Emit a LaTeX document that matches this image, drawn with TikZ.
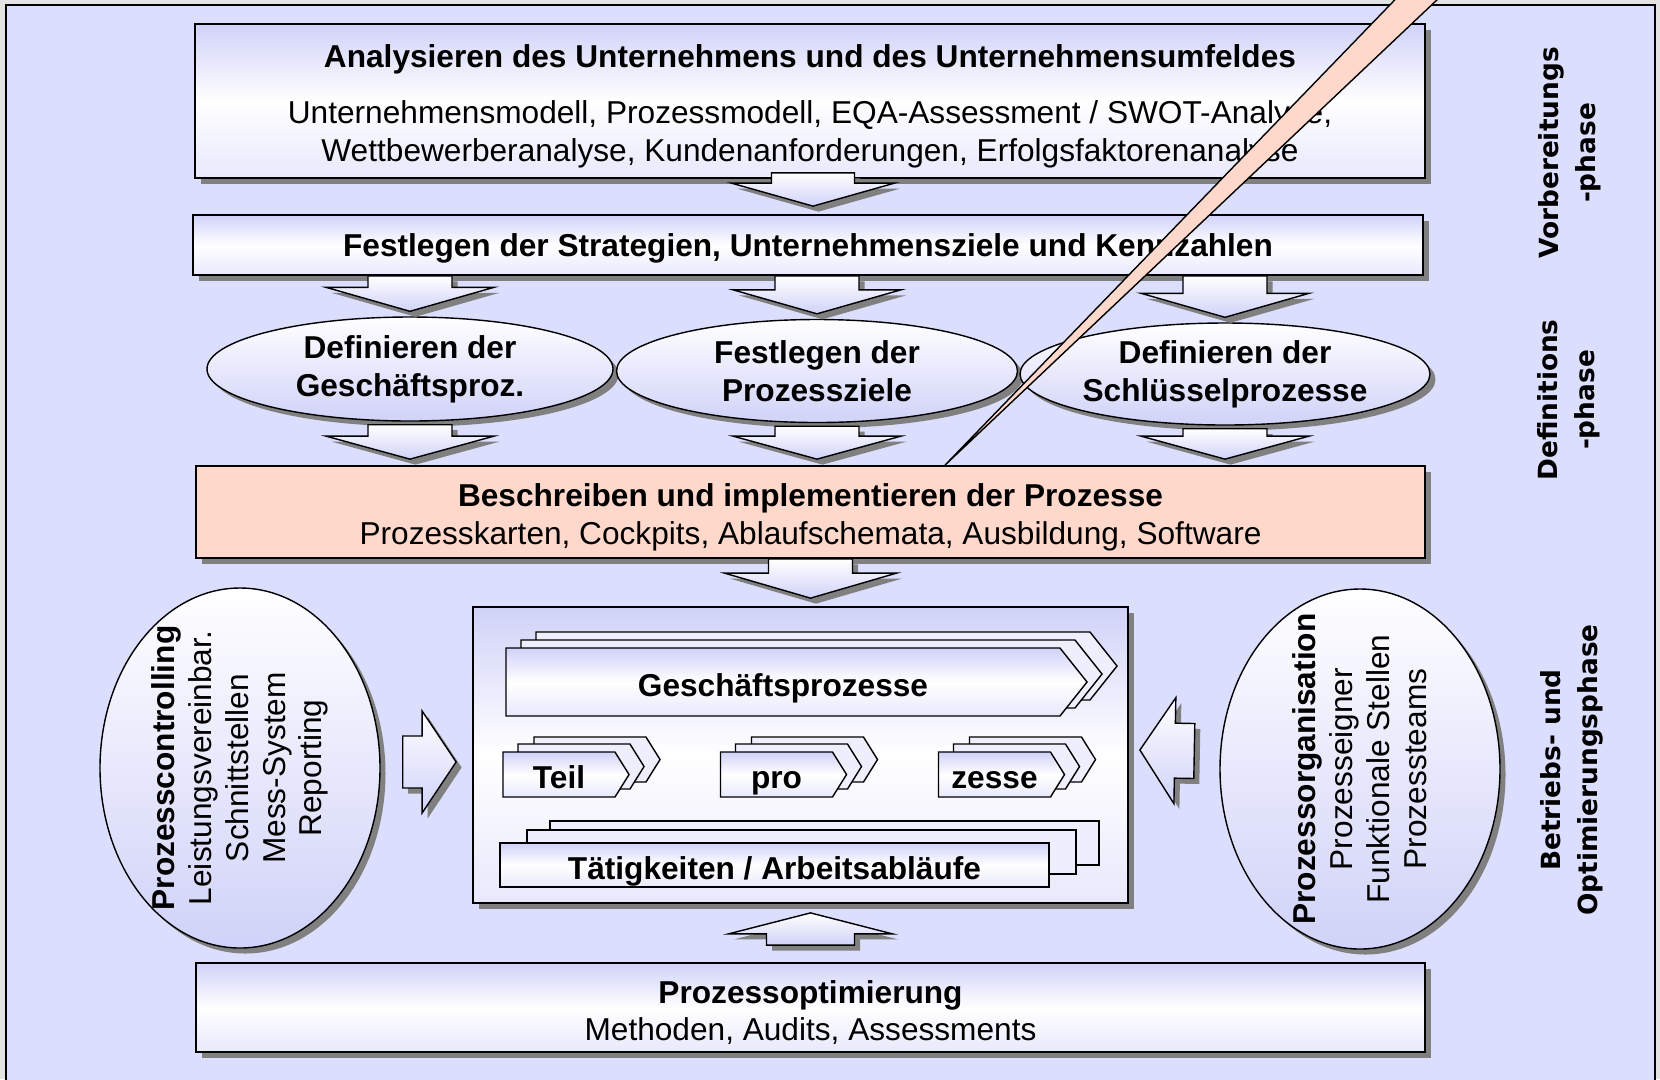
\documentclass[tikz,border=0pt]{standalone}
\usepackage{fontspec}
\setmainfont{Liberation Sans}
\newfontfamily\phasefont{DejaVu Sans}
\usetikzlibrary{calc,shapes.geometric,shapes.symbols,shadows}
\definecolor{pmgray}{RGB}{227,227,227}
\definecolor{pmlav}{RGB}{220,222,254}
\definecolor{pmshade}{RGB}{208,210,248}
\definecolor{pmpink}{RGB}{255,216,204}
\definecolor{pmshadow}{RGB}{128,128,128}
\definecolor{pmlayer}{RGB}{238,238,253}
\newcommand{\pmsize}{\fontsize{18}{21.6}\selectfont}
\newcommand{\pmstrut}[1]{\rule{0pt}{#1}}
\newcommand{\blkarrow}[6][]{%
  \coordinate (bas) at (#2);
  \coordinate (bae) at (#3);
  \coordinate (bah) at ($(bae)!#6!(bas)$);
  \draw[blk,#1] ($(bas)!#4!90:(bae)$) -- ($(bah)!#4!90:(bae)$)
    -- ($(bah)!#5!90:(bae)$) -- (bae) -- ($(bah)!#5!-90:(bae)$)
    -- ($(bah)!#4!-90:(bae)$) -- ($(bas)!#4!-90:(bae)$) -- cycle;
}

\begin{document}
\begin{tikzpicture}[
  font=\pmsize,
  dshadow/.style={drop shadow={shadow xshift=0.11cm, shadow yshift=-0.11cm, fill=pmshadow, opacity=1}},
  plainbox/.style={draw, line width=1pt, rectangle, align=center, inner sep=0pt, dshadow},
  box/.style={plainbox, top color=pmshade, bottom color=pmshade!50, middle color=white},
  oval/.style={ellipse, draw, line width=0.8pt, align=center, inner sep=0pt, font=\pmsize\bfseries,
               top color=white, bottom color=pmshade, dshadow},
  rottext/.style={rotate=90, align=center, font=\fontsize{18}{21}\selectfont},
  phase/.style={rotate=90, align=center, font=\phasefont\bfseries\fontsize{15}{21}\selectfont},
  blk/.style={draw, line width=0.8pt, top color=white, bottom color=pmshade, dshadow},
  chev/.style={signal, signal to=east, draw, line width=0.8pt, inner sep=0pt, font=\pmsize\bfseries,
               text height=0.6cm, text depth=0.04cm,
               top color=pmshade, bottom color=pmshade!50, middle color=white},
  tbox/.style={rectangle, draw, line width=0.8pt, inner sep=0pt, font=\pmsize\bfseries,
               text height=0.6cm, text depth=0.04cm,
               top color=pmshade, bottom color=pmshade!50, middle color=white},
  layer/.style 2 args={general shadow={shadow xshift=#1, shadow yshift=#2, fill=pmlayer, draw=black, line width=0.8pt}},
  bigstack/.style={layer={0.6cm}{0.32cm}, layer={0.3cm}{0.16cm}},
  smallstack/.style={layer={0.62cm}{0.3cm}, layer={0.3cm}{0.16cm}},
  boxstack/.style={layer={1.0cm}{0.44cm}, layer={0.54cm}{0.26cm}}
]
\useasboundingbox (0,0) rectangle (33.2,-21.58);
\fill[pmgray] (0,0) rectangle (33.2,-21.58);
\draw[fill=pmlav, line width=1.1pt] (0.12,-0.1) rectangle (33.1,-22.2);

\node[box, minimum width=24.6cm, minimum height=3.08cm] (analyse) at (16.2,-2.02)
  {\pmstrut{0.66cm}\textbf{Analysieren des Unternehmens und des Unternehmensumfeldes}\\[0.36cm]
   Unternehmensmodell, Prozessmodell, EQA-Assessment / SWOT-Analyse,\\
   Wettbewerberanalyse, Kundenanforderungen, Erfolgsfaktorenanalyse};
\node[box, minimum width=24.6cm, minimum height=1.2cm] (strat) at (16.16,-4.9)
  {\pmstrut{0.58cm}\textbf{Festlegen der Strategien, Unternehmensziele und Kennzahlen}};

\node[oval, minimum width=8.12cm, minimum height=2.08cm] (gp) at (8.2,-7.38) {Definieren der\\Geschäftsproz.};
\node[oval, minimum width=8.02cm, minimum height=2.06cm] (pz) at (16.34,-7.42) {Festlegen der\\Prozessziele};
\node[oval, minimum width=8.2cm, minimum height=2.04cm] (sp) at (24.5,-7.48) {Definieren der\\Schlüsselprozesse};

\node[plainbox, fill=pmpink, minimum width=24.58cm, minimum height=1.84cm] (impl) at (16.21,-10.24)
  {\pmstrut{0.66cm}\textbf{Beschreiben und implementieren der Prozesse}\\
   Prozesskarten, Cockpits, Ablaufschemata, Ausbildung, Software};

\node[box, minimum width=13.1cm, minimum height=5.92cm] (kern) at (16.01,-15.1) {};
\node[chev, bigstack, minimum width=11.62cm, minimum height=1.36cm, signal pointer angle=103] (gproz) at (15.66,-13.64) {Geschäftsprozesse};
\node[chev, smallstack, minimum width=2.52cm, minimum height=0.9cm, signal pointer angle=116] (teil) at (11.18,-15.49) {Teil};
\node[chev, smallstack, minimum width=2.52cm, minimum height=0.9cm, signal pointer angle=116] (pro) at (15.53,-15.49) {pro};
\node[chev, smallstack, minimum width=2.52cm, minimum height=0.9cm, signal pointer angle=116] (zesse) at (19.89,-15.49) {zesse};
\node[tbox, boxstack, minimum width=10.98cm, minimum height=0.88cm] (taet) at (15.49,-17.3) {Tätigkeiten / Arbeitsabläufe};

\node[oval, minimum width=5.6cm, minimum height=7.2cm] (ctrl) at (4.8,-15.36) {};
\node[rottext] (ctrltext) at (ctrl) {\textbf{Prozesscontrolling}\\Leistungsvereinbar.\\Schnittstellen\\Mess-System\\Reporting};
\node[oval, minimum width=5.6cm, minimum height=7.2cm] (orga) at (27.2,-15.38) {};
\node[rottext] (orgatext) at (orga) {\textbf{Prozessorganisation}\\Prozesseigner\\Funktionale Stellen\\Prozessteams};

\node[box, minimum width=24.58cm, minimum height=1.78cm] (optim) at (16.21,-20.15)
  {\pmstrut{0.66cm}\textbf{Prozessoptimierung}\\Methoden, Audits, Assessments};

\node[phase] (vorb) at (31.4,-3.06) {Vorbereitungs\\-phase};
\node[phase] (defi) at (31.38,-8.0) {Definitions\\-phase};
\node[phase] (betr) at (31.44,-15.4) {Betriebs- und\\Optimierungsphase};

\blkarrow{[xshift=0.06cm,yshift=0.12cm]analyse.south}{[xshift=0.1cm,yshift=0.16cm]strat.north}{0.83cm}{1.63cm}{0.46cm}
\foreach \e in {gp,pz,sp} {
  \blkarrow{\e |- strat.south}{[yshift=0.1cm]\e.north}{0.84cm}{1.68cm}{0.48cm}
  \blkarrow{[yshift=-0.06cm]\e.south}{[yshift=0.12cm]\e |- impl.north}{0.84cm}{1.68cm}{0.46cm}
}
\blkarrow{impl.south}{[yshift=0.16cm]impl.south |- kern.north}{0.84cm}{1.72cm}{0.5cm}
\blkarrow{[yshift=0.34cm]optim.north}{[yshift=-0.18cm]optim.north |- kern.south}{0.88cm}{1.64cm}{0.42cm}
\blkarrow{[xshift=0.44cm,yshift=0.12cm]ctrl.east}{[xshift=-0.32cm,yshift=-0.14cm]kern.west}{0.52cm}{1.02cm}{0.68cm}
\blkarrow{[xshift=-0.5cm,yshift=0.36cm]orga.west}{[xshift=0.22cm,yshift=0.1cm]kern.east}{0.55cm}{1.06cm}{0.7cm}

\coordinate (callout) at (18.9,0 |- impl.north);
\draw[fill=pmpink, line width=0.8pt] (callout) -- (28.28,0.4) -- (29.16,0.4) -- cycle;
\end{tikzpicture}
\end{document}
